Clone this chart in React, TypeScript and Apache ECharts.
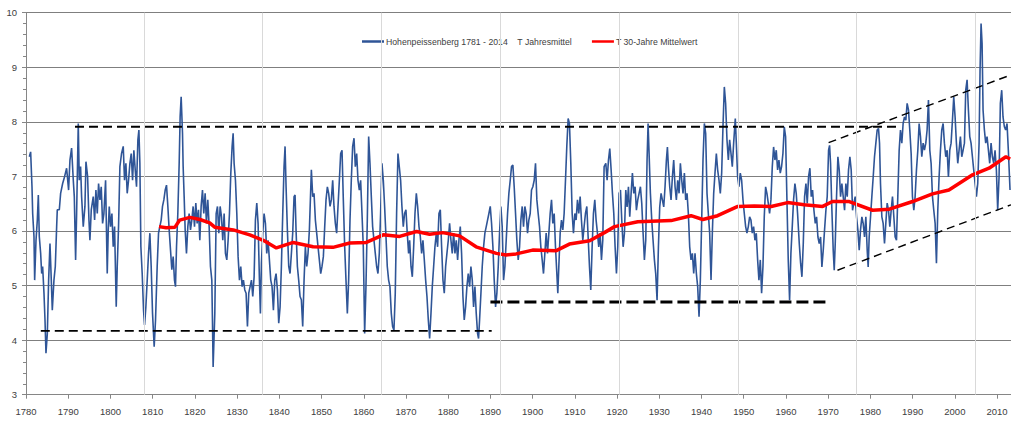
import React, { useEffect, useRef } from "react";
import * as echarts from "echarts";

const blueName = "Hohenpeissenberg 1781 - 2014\u00A0\u00A0\u00A0\u00A0T Jahresmittel";
const redName = "T 30-Jahre Mittelwert";

// [year, °C] (12-month mean)
const tempAnnual: [number, number][] = [
[1780.79,7.36],[1781.10,7.45],[1781.42,6.81],[1781.58,6.32],[1781.89,5.90],[1782.05,5.10],[1782.37,5.83],[1782.68,6.20],[1782.92,6.66],[1783.15,5.90],[1783.47,5.59],[1783.71,5.22],[1783.94,5.35],[1784.26,4.86],[1784.50,4.37],[1784.73,3.76],[1785.05,4.12],[1785.36,5.10],[1785.68,5.77],[1785.99,5.10],[1786.23,4.55],[1786.62,5.10],[1786.94,5.35],[1787.26,6.08],[1787.41,6.39],[1787.89,6.39],[1788.20,6.69],[1788.68,6.87],[1789.15,7.00],[1789.62,7.15],[1790.09,6.75],[1790.41,7.30],[1790.80,7.52],[1791.20,6.93],[1791.44,6.63],[1791.75,5.47],[1791.99,6.32],[1792.38,7.97],[1792.62,6.93],[1792.93,7.18],[1793.17,6.63],[1793.56,6.08],[1793.96,6.45],[1794.20,7.27],[1794.59,7.00],[1794.91,6.20],[1795.14,5.83],[1795.46,6.39],[1795.93,6.63],[1796.25,6.20],[1796.56,6.75],[1796.88,6.32],[1797.19,6.87],[1797.51,6.57],[1797.82,6.81],[1798.14,6.14],[1798.45,6.32],[1798.85,6.93],[1799.24,5.22],[1799.48,6.02],[1799.72,6.45],[1800.03,6.08],[1800.35,6.32],[1800.66,5.71],[1800.98,6.08],[1801.37,4.61],[1801.61,5.35],[1801.92,6.08],[1802.24,7.18],[1802.63,7.42],[1803.03,7.55],[1803.34,6.93],[1803.66,7.24],[1803.97,6.69],[1804.29,6.93],[1804.61,7.24],[1804.92,7.42],[1805.24,6.93],[1805.55,7.48],[1805.87,7.12],[1806.18,6.81],[1806.50,7.67],[1806.74,7.85],[1806.97,7.24],[1807.21,5.71],[1807.52,5.22],[1807.84,4.55],[1808.08,4.28],[1808.39,4.61],[1808.71,5.10],[1809.02,5.59],[1809.34,5.96],[1809.65,5.35],[1809.97,4.49],[1810.36,3.88],[1810.68,4.37],[1811.07,5.35],[1811.39,5.96],[1811.70,6.08],[1812.02,6.20],[1812.33,6.45],[1812.65,6.57],[1812.97,6.75],[1813.28,6.84],[1813.60,6.45],[1813.91,6.02],[1814.23,5.65],[1814.54,5.29],[1814.86,5.53],[1815.17,5.10],[1815.41,4.98],[1815.65,5.71],[1815.96,6.32],[1816.28,7.24],[1816.51,8.10],[1816.75,8.46],[1817.07,7.79],[1817.22,7.18],[1817.46,6.63],[1817.70,6.02],[1818.01,5.59],[1818.33,6.08],[1818.64,6.32],[1818.96,6.02],[1819.27,6.20],[1819.59,6.45],[1819.91,6.08],[1820.22,6.51],[1820.54,6.14],[1820.85,6.39],[1821.17,5.83],[1821.48,6.45],[1821.80,6.75],[1822.11,6.32],[1822.43,6.69],[1822.74,6.14],[1823.06,6.57],[1823.38,6.08],[1823.69,5.35],[1824.01,5.10],[1824.16,4.37],[1824.32,3.51],
[1824.72,4.49],[1825.04,6.32],[1825.35,6.45],[1825.67,5.96],[1825.98,6.45],[1826.30,6.26],[1826.61,5.83],[1826.93,6.32],[1827.24,5.59],[1827.56,5.47],[1827.87,5.83],[1828.19,6.32],[1828.51,7.06],[1828.82,7.55],[1829.06,7.79],[1829.29,7.24],[1829.61,6.93],[1829.93,6.32],[1830.24,5.53],[1830.56,5.10],[1830.87,5.35],[1831.19,4.98],[1831.50,5.10],[1831.82,4.92],[1832.13,4.86],[1832.45,4.25],[1832.76,4.86],[1833.08,4.98],[1833.40,5.10],[1833.71,4.80],[1834.03,5.16],[1834.34,6.20],[1834.66,6.51],[1834.97,6.14],[1835.29,5.10],[1835.52,4.49],[1835.76,5.41],[1836.08,5.96],[1836.39,6.32],[1836.71,6.14],[1837.02,5.59],[1837.34,5.83],[1837.65,5.47],[1837.97,5.10],[1838.28,4.98],[1838.60,4.55],[1838.92,5.10],[1839.23,5.22],[1839.55,4.92],[1839.86,4.31],[1840.18,4.61],[1840.49,5.35],[1840.81,6.32],[1841.12,7.18],[1841.36,7.55],[1841.60,6.81],[1841.91,6.02],[1842.23,5.35],[1842.54,5.22],[1842.86,5.59],[1843.17,5.96],[1843.49,6.63],[1843.73,6.66],[1843.96,6.02],[1844.28,5.35],[1844.59,5.10],[1844.91,4.80],[1845.22,4.74],[1845.54,4.25],[1845.86,5.10],[1846.17,5.71],[1846.49,5.35],[1846.80,5.59],[1847.12,6.02],[1847.59,7.12],[1847.91,6.63],[1848.22,6.69],[1848.54,6.20],[1848.85,5.96],[1849.17,5.71],[1849.48,5.47],[1849.80,5.22],[1850.11,5.35],[1850.43,5.53],[1850.75,6.08],[1851.06,6.57],[1851.38,6.81],[1851.69,6.69],[1852.01,6.45],[1852.32,6.57],[1852.64,6.93],[1852.95,6.45],[1853.27,6.14],[1853.58,5.96],[1853.90,6.45],[1854.22,6.93],[1854.53,7.42],[1854.85,7.48],[1855.16,6.57],[1855.48,5.71],[1855.79,5.10],[1856.11,4.49],[1856.42,5.10],[1856.74,6.20],[1857.05,6.93],[1857.37,7.55],[1857.69,7.70],[1858.00,7.18],[1858.32,7.42],[1858.63,6.93],[1858.95,6.75],[1859.26,6.93],[1859.58,6.32],[1859.89,5.71],[1860.21,4.12],[1860.52,4.98],[1860.84,6.20],[1861.16,7.73],[1861.47,7.24],[1861.79,6.63],[1862.10,6.08],[1862.42,5.83],[1862.73,5.59],[1863.05,5.35],[1863.36,5.22],[1863.68,5.59],[1863.99,6.32],[1864.31,7.24],[1864.63,6.93],[1864.94,6.45],[1865.26,5.90],[1865.57,5.35],[1865.89,5.10],[1866.20,4.98],[1866.52,4.49],[1866.83,4.25],[1867.15,4.18],[1867.46,4.86],[1867.78,6.32],[1868.10,7.42],[1868.41,7.18],[1868.73,6.93],[1869.04,6.45],[1869.36,6.08],[1869.67,6.32],[1869.99,6.39],[1870.30,5.96],[1870.62,5.59],
[1870.87,5.83],[1871.19,5.35],[1871.50,5.16],[1871.82,5.71],[1872.13,6.32],[1872.45,6.69],[1872.76,6.45],[1873.08,6.08],[1873.39,5.90],[1873.71,5.59],[1874.02,5.83],[1874.34,5.47],[1874.66,5.10],[1874.97,4.80],[1875.29,4.37],[1875.60,4.03],[1875.92,4.49],[1876.23,4.98],[1876.55,5.35],[1876.86,5.71],[1877.18,5.96],[1877.49,5.71],[1877.81,6.32],[1878.13,6.39],[1878.44,5.71],[1878.76,5.10],[1879.07,4.86],[1879.39,5.35],[1879.70,5.59],[1880.02,5.83],[1880.33,6.14],[1880.65,5.83],[1880.96,5.59],[1881.28,5.96],[1881.60,5.59],[1881.91,5.83],[1882.23,5.47],[1882.54,5.83],[1882.86,6.08],[1883.17,5.59],[1883.49,4.80],[1883.80,4.37],[1884.12,4.61],[1884.43,4.98],[1884.75,5.22],[1885.07,4.98],[1885.38,5.35],[1885.70,5.10],[1886.01,4.61],[1886.33,4.98],[1886.64,4.49],[1886.96,4.12],[1887.19,4.03],[1887.43,4.37],[1887.75,4.86],[1888.06,5.35],[1888.38,5.71],[1888.69,5.96],[1889.01,6.08],[1889.32,6.20],[1889.64,6.32],[1889.96,6.45],[1890.27,6.14],[1890.59,5.71],[1890.90,5.10],[1891.22,4.61],[1891.53,4.86],[1891.85,5.35],[1892.16,5.96],[1892.48,6.45],[1892.79,6.08],[1893.11,5.10],[1893.43,5.35],[1893.74,5.83],[1894.06,6.32],[1894.37,6.69],[1894.69,6.93],[1895.00,7.18],[1895.32,7.21],[1895.63,6.81],[1895.95,6.32],[1896.26,5.83],[1896.58,5.47],[1896.90,5.71],[1897.21,6.20],[1897.53,6.45],[1897.84,6.08],[1898.16,6.45],[1898.47,6.32],[1898.79,5.96],[1899.10,6.20],[1899.42,6.32],[1899.73,6.75],[1900.05,6.81],[1900.37,6.93],[1900.68,7.24],[1901.00,6.57],[1901.31,6.32],[1901.63,6.08],[1901.94,5.71],[1902.26,5.47],[1902.57,5.22],[1902.89,5.59],[1903.20,5.96],[1903.52,5.59],[1903.84,5.96],[1904.15,6.32],[1904.47,6.57],[1904.78,6.14],[1905.10,6.32],[1905.41,5.71],[1905.73,5.22],[1905.96,4.86],[1906.20,5.35],[1906.52,5.96],[1906.83,6.20],[1907.15,6.02],[1907.46,6.32],[1907.78,6.93],[1908.09,7.55],[1908.41,8.06],[1908.72,7.97],[1909.04,7.24],[1909.36,6.32],[1909.67,5.96],[1909.99,6.32],[1910.30,6.20],[1910.62,6.57],[1910.93,6.32],[1911.25,6.63],[1911.56,6.20],[1911.88,5.83],[1912.19,6.08],[1912.51,6.32],[1912.83,6.45],[1913.14,5.90],[1913.46,5.35],[1913.77,4.92],[1914.09,5.71],[1914.40,6.32],[1914.72,6.57],[1915.03,6.20],[1915.35,5.96],[1915.66,5.71],[1915.98,5.96],[1916.30,5.47],[1916.61,5.83],[1916.93,7.18],
[1917.33,7.24],[1917.64,6.93],[1917.96,7.30],[1918.27,7.51],[1918.59,7.12],[1918.90,6.69],[1919.22,6.32],[1919.53,5.71],[1919.85,5.22],[1920.16,5.71],[1920.48,6.69],[1920.80,6.75],[1921.11,6.20],[1921.43,5.71],[1921.74,5.96],[1922.06,6.75],[1922.37,6.44],[1922.69,6.81],[1923.00,6.26],[1923.32,6.69],[1923.63,7.06],[1923.95,6.69],[1924.27,6.81],[1924.58,6.38],[1924.90,6.57],[1925.21,6.69],[1925.53,6.81],[1925.84,6.51],[1926.16,5.96],[1926.47,5.47],[1926.79,5.83],[1927.10,7.30],[1927.34,7.97],[1927.58,7.42],[1927.89,6.69],[1928.21,6.20],[1928.52,5.83],[1928.84,5.47],[1929.15,5.22],[1929.47,4.73],[1929.79,5.71],[1930.10,6.44],[1930.42,6.69],[1930.73,6.57],[1931.05,6.44],[1931.36,6.81],[1931.68,7.30],[1931.92,7.54],[1932.15,7.18],[1932.47,6.81],[1932.78,6.57],[1933.10,6.99],[1933.41,7.30],[1933.73,6.81],[1934.04,6.57],[1934.36,6.93],[1934.68,6.69],[1934.99,7.24],[1935.31,6.93],[1935.62,6.69],[1935.94,7.06],[1936.25,6.57],[1936.57,6.69],[1936.88,6.32],[1937.20,5.71],[1937.51,5.47],[1937.83,5.59],[1938.15,5.22],[1938.46,5.59],[1938.78,5.22],[1939.09,4.98],[1939.41,4.43],[1939.72,5.10],[1940.04,6.20],[1940.35,7.30],[1940.67,7.97],[1940.98,7.79],[1941.30,6.69],[1941.61,6.32],[1941.93,5.96],[1942.25,5.10],[1942.56,5.96],[1942.88,6.69],[1943.19,7.06],[1943.51,7.42],[1943.82,7.12],[1944.14,6.93],[1944.45,6.69],[1944.77,7.06],[1945.08,7.91],[1945.40,8.64],[1945.71,8.34],[1946.03,7.67],[1946.35,7.30],[1946.66,7.67],[1946.98,7.42],[1947.29,7.18],[1947.61,7.61],[1948.00,8.06],[1948.24,7.61],[1948.55,6.99],[1948.87,6.81],[1949.18,7.06],[1949.50,6.93],[1949.82,6.57],[1950.13,6.32],[1950.45,6.08],[1950.76,5.96],[1951.08,6.08],[1951.39,6.26],[1951.71,6.20],[1952.02,5.96],[1952.34,6.08],[1952.65,5.83],[1952.97,5.96],[1953.29,5.47],[1953.60,5.10],[1953.92,5.47],[1954.23,4.86],[1954.55,5.35],[1954.86,6.26],[1955.18,6.81],[1955.49,6.69],[1955.81,6.51],[1956.12,6.32],[1956.44,6.57],[1956.76,7.18],[1957.07,7.54],[1957.39,7.30],[1957.70,7.48],[1958.02,7.12],[1958.33,7.30],[1958.65,7.06],[1958.96,7.18],[1959.28,7.42],[1959.60,7.91],[1959.91,7.73],[1960.23,6.57],[1960.54,5.47],[1960.86,4.73],[1961.17,5.59],[1961.49,6.08],[1961.80,6.57],[1962.12,6.87],[1962.43,6.69],[1962.75,6.32],
[1963.15,5.77],[1963.47,5.41],[1963.78,5.16],[1964.10,5.77],[1964.41,6.63],[1964.73,6.87],[1965.04,6.51],[1965.36,7.00],[1965.67,7.15],[1965.99,6.63],[1966.30,6.75],[1966.62,6.38],[1966.94,6.14],[1967.25,6.26],[1967.57,5.89],[1967.88,5.77],[1968.20,5.89],[1968.51,5.34],[1968.83,5.65],[1969.14,6.02],[1969.46,6.38],[1969.77,6.63],[1970.09,7.48],[1970.33,7.57],[1970.56,7.24],[1970.88,6.38],[1971.19,5.65],[1971.43,5.28],[1971.67,5.77],[1971.98,6.63],[1972.30,7.36],[1972.61,7.12],[1972.93,6.63],[1973.24,6.87],[1973.56,6.63],[1973.88,6.38],[1974.19,6.87],[1974.51,6.63],[1974.82,7.12],[1975.14,7.36],[1975.45,7.12],[1975.77,6.38],[1976.08,6.51],[1976.40,6.63],[1976.72,6.26],[1977.03,6.02],[1977.35,5.65],[1977.66,6.02],[1977.98,6.26],[1978.29,6.14],[1978.61,5.89],[1978.92,6.26],[1979.24,5.65],[1979.47,5.34],[1979.71,5.89],[1980.03,6.26],[1980.34,6.63],[1980.66,6.99],[1980.97,7.36],[1981.29,7.61],[1981.60,7.85],[1981.92,7.88],[1982.16,7.61],[1982.39,6.87],[1982.71,6.26],[1983.02,6.14],[1983.34,5.77],[1983.65,6.14],[1983.97,6.51],[1984.29,6.38],[1984.60,6.08],[1984.92,6.38],[1985.23,6.63],[1985.55,6.26],[1985.86,5.89],[1986.18,5.83],[1986.49,6.63],[1986.81,7.48],[1987.12,7.85],[1987.44,7.61],[1987.75,7.97],[1988.07,8.09],[1988.39,8.03],[1988.70,8.34],[1989.02,8.22],[1989.33,7.85],[1989.65,7.42],[1989.96,6.63],[1990.28,6.38],[1990.59,6.63],[1990.91,7.12],[1991.23,7.48],[1991.54,7.97],[1991.86,7.73],[1992.17,7.36],[1992.49,7.61],[1992.80,7.48],[1993.12,7.61],[1993.43,7.85],[1993.75,8.40],[1994.07,7.48],[1994.38,7.24],[1994.70,6.63],[1995.01,6.38],[1995.33,6.14],[1995.64,5.41],[1995.96,6.38],[1996.27,6.99],[1996.59,7.48],[1996.90,7.85],[1997.22,7.97],[1997.53,7.61],[1997.85,7.36],[1998.17,7.48],[1998.48,6.99],[1998.80,7.48],[1999.11,7.61],[1999.43,8.03],[1999.74,8.46],[2000.06,8.09],[2000.37,7.61],[2000.69,7.24],[2001.00,7.48],[2001.32,7.73],[2001.64,7.36],[2001.95,7.48],[2002.27,7.61],[2002.58,8.58],[2002.90,8.77],[2003.21,8.22],[2003.53,7.73],[2003.84,7.61],[2004.16,7.36],[2004.47,7.12],[2004.79,6.87],[2005.11,6.63],[2005.42,6.87],[2005.74,7.61],[2005.97,8.95],[2006.21,9.80],[2006.45,9.44],[2006.68,8.22],[2007.00,7.85],[2007.31,7.61],[2007.63,7.73],[2007.95,7.48],[2008.26,7.24],[2008.58,7.61],[2008.89,7.36],[2009.21,7.24],[2009.52,7.48],[2009.84,7.12],[2010.15,6.38],[2010.47,6.99],[2010.78,8.34],[2011.10,8.58],[2011.41,8.09],[2011.73,7.91],[2012.04,7.85],[2012.36,7.97],[2012.67,7.48],[2013.07,6.75]
];

// [year, °C] 30-year running mean
const temp30: [number, number][] = [
[1811.5,6.08],[1813.2,6.06],[1815.3,6.07],[1816.4,6.20],[1818.8,6.25],[1821.2,6.21],[1823.5,6.15],[1824.7,6.07],[1829.1,6.02],[1833.0,5.93],[1836.2,5.83],[1839.3,5.69],[1843.3,5.79],[1848.0,5.71],[1852.7,5.70],[1856.7,5.78],[1860.6,5.79],[1864.6,5.93],[1868.5,5.90],[1872.5,5.99],[1875.6,5.94],[1878.7,5.97],[1882.7,5.91],[1886.6,5.71],[1891.4,5.59],[1893.7,5.56],[1896.1,5.58],[1900.0,5.65],[1905.6,5.64],[1908.7,5.76],[1913.5,5.82],[1917.0,5.97],[1919.4,6.08],[1924.9,6.17],[1932.8,6.19],[1937.5,6.28],[1940.3,6.21],[1943.8,6.28],[1948.6,6.45],[1952.5,6.46],[1956.5,6.45],[1960.4,6.52],[1964.3,6.48],[1968.7,6.45],[1971.0,6.54],[1975.0,6.54],[1980.5,6.38],[1984.5,6.40],[1990.0,6.54],[1994.7,6.68],[1998.6,6.75],[2004.2,7.03],[2008.1,7.15],[2012.1,7.36],[2013.1,7.32]
];

const dashTop: [number, number][] = [[1791.6, 7.91], [1987.2, 7.91]];
const dashLow: [number, number][] = [[1783.5, 4.17], [1890.3, 4.17]];
const dashMid: [number, number][] = [[1890.0, 4.70], [1969.8, 4.70]];
const trendUpper: [number, number][] = [[1970.1, 7.62], [2013.3, 8.86]];
const trendLower: [number, number][] = [[1972.2, 5.28], [2013.3, 6.48]];

const vGridYears = [1807.93, 1836.06, 1864.19, 1892.32, 1920.45, 1948.58, 1976.71, 2004.84];

const X_MIN = 1780;
const X_MAX = 2013.3;
const Y_MIN = 3;
const Y_MAX = 10;

export default function App() {
  const ref = useRef<HTMLDivElement>(null);
  useEffect(() => {
    if (!ref.current) return;
    const chart = echarts.init(ref.current, undefined, { renderer: "svg" });
    const narrow = "'Liberation Sans Narrow', 'Liberation Sans', Arial, sans-serif";
    const dash = (name: string, data: [number, number][], width: number, pattern: number[]) => ({
      name,
      type: "line",
      data,
      symbol: "none",
      silent: true,
      z: 3,
      lineStyle: { color: "#000000", width, type: pattern },
    });
    chart.setOption({
      animation: false,
      backgroundColor: "#ffffff",
      grid: { left: 26, right: 0, top: 12.7, bottom: 26.3, containLabel: false },
      legend: {
        data: [
          { name: blueName, icon: "rect", itemStyle: { color: "#2f5597" } },
          { name: redName, icon: "rect", itemStyle: { color: "#ff0000" } },
        ],
        left: 357,
        top: 32,
        itemWidth: 22,
        itemHeight: 2.5,
        itemGap: 20,
        textStyle: { fontSize: 8.7, color: "#404040", fontFamily: "'Liberation Sans', Arial, sans-serif", padding: [0, 0, 0, -3] },
      },
      xAxis: {
        type: "value",
        min: X_MIN,
        max: X_MAX,
        interval: 10,
        splitLine: { show: false },
        axisLine: { lineStyle: { color: "#868686", width: 1 } },
        axisTick: { show: true, length: 4, lineStyle: { color: "#868686" } },
        axisLabel: {
          margin: 12,
          fontSize: 9.5,
          color: "#404040",
          fontFamily: narrow,
          showMaxLabel: false,
          formatter: (v: number) => (Math.abs(v % 10) < 1e-6 ? String(v) : ""),
        },
      },
      yAxis: {
        type: "value",
        min: Y_MIN,
        max: Y_MAX,
        interval: 1,
        axisLine: { show: true, lineStyle: { color: "#868686", width: 1 } },
        axisTick: { show: true, length: 4, lineStyle: { color: "#868686" } },
        minorTick: { show: true, splitNumber: 5, length: 3, lineStyle: { color: "#868686" } },
        splitLine: { show: true, lineStyle: { color: "#7f7f7f", width: 1 } },
        axisLabel: { margin: 9, fontSize: 9.5, color: "#404040", fontFamily: narrow },
      },
      series: [
        {
          name: "grid",
          type: "line",
          data: [],
          silent: true,
          z: 1,
          markLine: {
            silent: true,
            symbol: ["none", "none"],
            label: { show: false },
            animation: false,
            lineStyle: { color: "#d9d9d9", width: 1, type: "solid" },
            data: vGridYears.map((x) => ({ xAxis: x })),
          },
        },
        {
          name: blueName,
          type: "line",
          data: tempAnnual,
          symbol: "none",
          z: 2,
          lineStyle: { color: "#2f5597", width: 1.6 },
          itemStyle: { color: "#2f5597" },
        },
        dash("dashTop", dashTop, 1.8, [9, 5]),
        dash("dashLow", dashLow, 1.8, [9, 5]),
        dash("dashMid", dashMid, 3, [12, 5]),
        dash("trendUpper", trendUpper, 1.4, [8, 5]),
        dash("trendLower", trendLower, 1.4, [8, 5]),
        {
          name: redName,
          type: "line",
          data: temp30,
          symbol: "none",
          z: 4,
          lineStyle: { color: "#ff0000", width: 3.5 },
          itemStyle: { color: "#ff0000" },
        },
      ],
    });
    return () => chart.dispose();
  }, []);
  return (
    <div
      ref={ref}
      style={{ position: "absolute", left: 0, top: 0, width: 1011, height: 421, background: "#fff" }}
    />
  );
}
